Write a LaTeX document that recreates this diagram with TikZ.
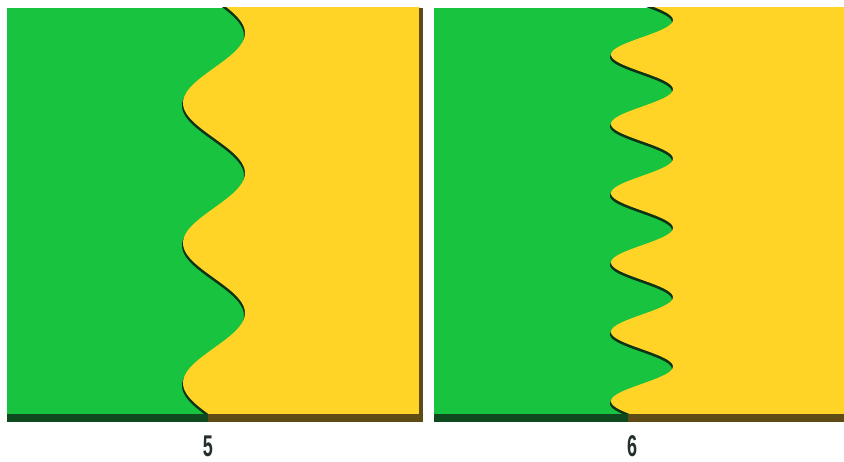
\documentclass[tikz,border=0pt]{standalone}
\usepackage{fontspec}
\setmainfont{Liberation Sans}
\definecolor{fgreen}{HTML}{17C33F}
\definecolor{fyellow}{HTML}{FFD426}
\definecolor{dgreen}{HTML}{0F4A1E}
\definecolor{dyellow}{HTML}{5E4B16}
\definecolor{wshadow}{HTML}{0B3315}
\definecolor{labelc}{HTML}{25302A}
\tikzset{
  lbl/.style={text=labelc, font=\fontsize{30}{30}\selectfont\bfseries, xscale=0.6, inner sep=0pt},
}
\begin{document}
\begin{tikzpicture}[x=1pt,y=-1pt]
\useasboundingbox (0,0) rectangle (844,462);
\fill[white] (0,0) rectangle (844,462);
% ---------- left panel (5) ----------
\fill[fgreen] (7,8) rectangle (419,414);
\begin{scope}
  \clip (7,8) rectangle (419,414);
  \fill[wshadow, shift={(-1,2.5)}] (430,-10) -- plot[domain=-10:420,samples=200] ({214+31*cos((\x-33)*2.5714286)},\x) -- (430,420) -- cycle;
  \fill[fyellow] (430,-10) -- plot[domain=-10:420,samples=200] ({214+31*cos((\x-33)*2.5714286)},\x) -- (430,420) -- cycle;
\end{scope}
\fill[dgreen] (7,414) rectangle (208,422);
\fill[dyellow] (208,414) rectangle (423,422);
\fill[dyellow] (419,8) rectangle (423,422);
% ---------- right panel (6) ----------
\fill[fgreen] (434,8) rectangle (844,414);
\begin{scope}
  \clip (434,8) rectangle (844,414);
  \fill[wshadow, shift={(-1,2.5)}] (850,-10) -- plot[domain=-10:420,samples=300] ({642+31*cos((\x-20)*5.1948)},\x) -- (850,420) -- cycle;
  \fill[fyellow] (850,-10) -- plot[domain=-10:420,samples=300] ({642+31*cos((\x-20)*5.1948)},\x) -- (850,420) -- cycle;
\end{scope}
\fill[dgreen] (434,414) rectangle (628,422);
\fill[dyellow] (628,414) rectangle (844,422);
% ---------- labels ----------
\node[lbl] (l5) at (208,446) {5};
\node[lbl] (l6) at (632,446) {6};
\end{tikzpicture}
\end{document}
